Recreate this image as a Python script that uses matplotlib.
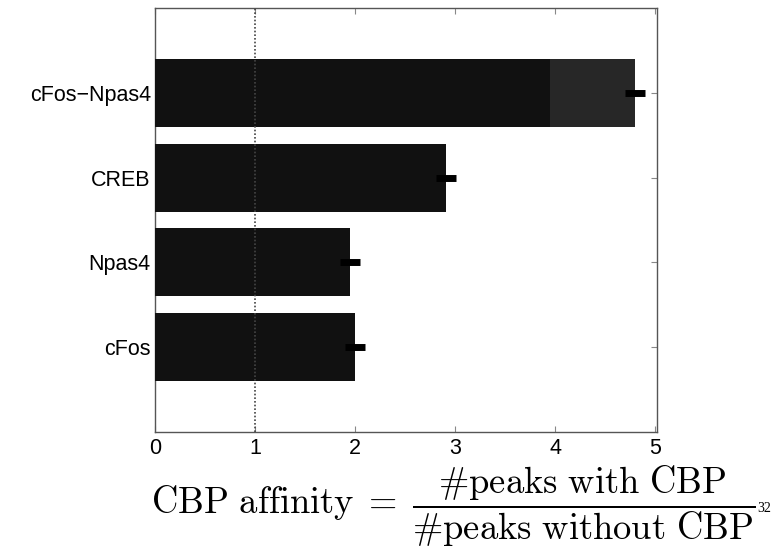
import numpy as np
import matplotlib.pyplot as plt

plt.rcParams['font.family'] = ['Liberation Sans', 'DejaVu Sans']
plt.rcParams['mathtext.fontset'] = 'cm'

labels = ['cFos', 'Npas4', 'CREB', 'cFos\u2212Npas4']
values = [2.0, 1.95, 2.91, 3.95]
overlay = [0, 0, 0, 4.8]
err_center = [2.0, 1.95, 2.91, 4.8]
err = [0.1, 0.1, 0.1, 0.1]

fig = plt.figure(figsize=(7.77, 5.5), dpi=100)
ax = fig.add_axes([0.1995, 0.2145, 0.6465, 0.771])

pos = np.arange(1, len(labels) + 1)
ax.barh(pos, overlay, height=0.8, color='#272727', edgecolor='none', zorder=2)
ax.barh(pos, values, height=0.8, color='#111111', edgecolor='none', zorder=3)
for p, c, e in zip(pos, err_center, err):
    ax.plot([c - e, c + e], [p, p], color='black', lw=5, solid_capstyle='butt', zorder=5)

ax.axvline(1, color='#444444', lw=1.2, ls=(0, (1, 1.2)), zorder=4)

ax.set_xlim(0, 5.02)
ax.set_ylim(0, 5)
ax.set_yticks(pos)
ax.set_yticklabels(labels)
ax.set_xticks([0, 1, 2, 3, 4, 5])
ax.tick_params(direction='in', top=True, right=True, labelsize=15.5, color='#888888',
               length=4)
ax.tick_params(axis='y', pad=3)
ax.tick_params(axis='x', pad=4)
for s in ax.spines.values():
    s.set_color('#555555')
    s.set_linewidth(1)

fig.text(0.5825, 0.079,
         r'$\mathrm{CBP\ affinity}\;=\;\dfrac{\#\mathrm{peaks\ with\ CBP}}{\#\mathrm{peaks\ without\ CBP}}$',
         fontsize=26.3, ha='center', va='center')
fig.text(0.974, 0.076, '32', fontsize=10, ha='left', va='center', family='Liberation Serif')

fig.savefig('out.png', dpi=100)
